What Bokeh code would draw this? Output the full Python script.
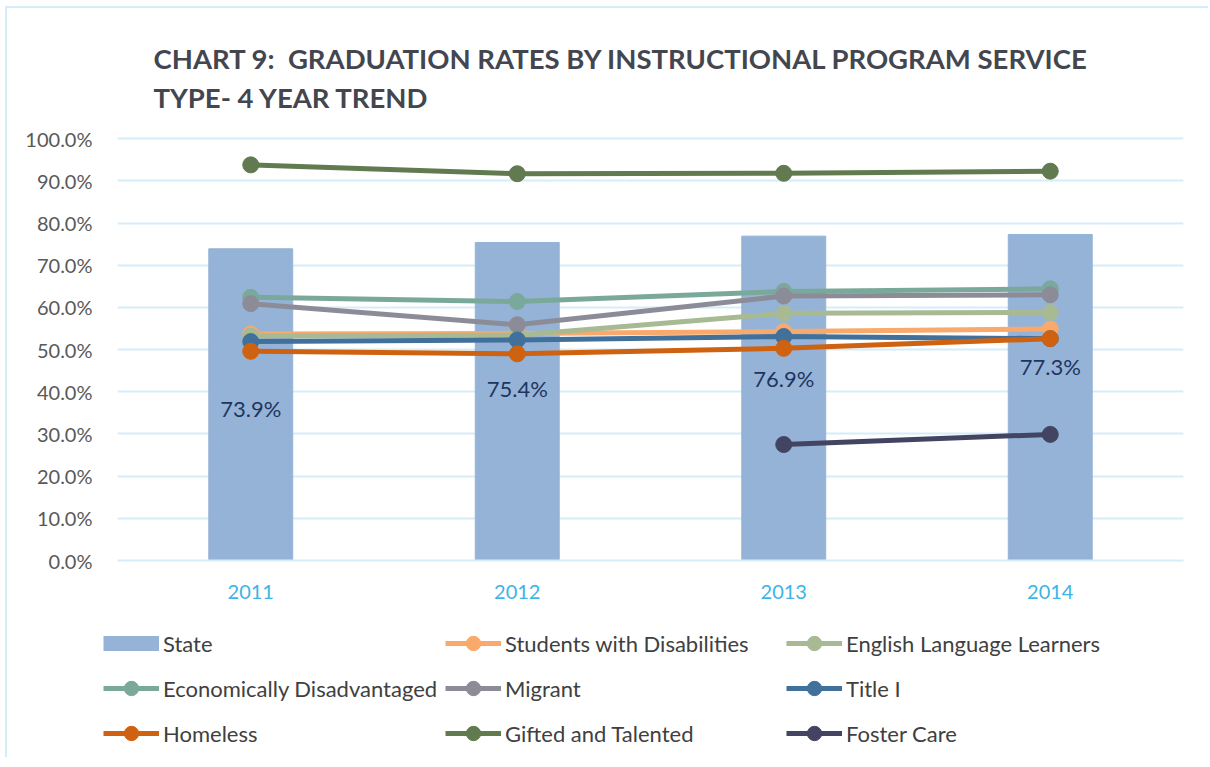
import numpy as np
from bokeh.plotting import figure
from bokeh.models import (Range1d, FactorRange, FixedTicker, PrintfTickFormatter,
                          Legend, LegendItem, Title)
from bokeh.core.properties import value
from bokeh.embed import file_html
from bokeh.resources import INLINE

years = ["2011", "2012", "2013", "2014"]
state = [73.9, 75.4, 76.9, 77.3]
state_labels = ["73.9%", "75.4%", "76.9%", "77.3%"]
label_pos = [36.0, 40.8, 43.1, 46.0]

swd = [53.7, 53.8, 54.3, 54.9]
ell = [53.2, 53.4, 58.6, 58.8]
econ = [62.4, 61.4, 63.8, 64.4]
migrant = [60.9, 55.9, 62.7, 63.0]
title1 = [51.9, 52.3, 53.1, 52.6]
homeless = [49.6, 49.0, 50.3, 52.6]
gifted = [93.8, 91.7, 91.8, 92.3]
foster = [np.nan, np.nan, 27.5, 29.9]

series = [
    ("Students with Disabilities", swd, "#f8a96b"),
    ("English Language Learners", ell, "#a8ba93"),
    ("Economically Disadvantaged", econ, "#7aa99b"),
    ("Migrant", migrant, "#8c8c98"),
    ("Title I", title1, "#41709b"),
    ("Homeless", homeless, "#cf6210"),
    ("Gifted and Talented", gifted, "#617a4f"),
    ("Foster Care", foster, "#424461"),
]
BAR_COLOR = "#95b3d7"
BORDER = "2px solid #d5edf8"

FONT = "Lato"
W = 1203
H_MAIN = 607
H_LEG = 144

# ---------------- main chart ----------------
p = figure(width=W, height=H_MAIN, x_range=FactorRange(*years), y_range=Range1d(0, 101),
           output_backend="svg", toolbar_location=None,
           min_border_left=110, min_border_right=W - 1176, min_border_top=126,
           min_border_bottom=H_MAIN - 552)
p.outline_line_color = None
p.background_fill_color = "white"
p.border_fill_color = "white"
p.styles = {"border-left": BORDER, "border-top": BORDER,
            "margin-left": "5px", "margin-top": "6px"}

p.vbar(x=years, top=state, width=0.315, fill_color=BAR_COLOR, line_color=BAR_COLOR)

for name, vals, col in series:
    p.line(x=years, y=vals, line_color=col, line_width=5)
    p.scatter(x=years, y=vals, size=16, fill_color=col, line_color=col)

p.text(x=years, y=label_pos, text=state_labels, text_font=value(FONT),
       text_font_size="22px", text_color="#1f3560", text_align="center",
       text_baseline="middle")

p.yaxis.ticker = FixedTicker(ticks=list(range(0, 101, 10)))
p.yaxis.formatter = PrintfTickFormatter(format="%.1f%%")
p.yaxis.axis_line_color = None
p.yaxis.major_tick_line_color = None
p.yaxis.minor_tick_line_color = None
p.yaxis.major_label_text_font = FONT
p.yaxis.major_label_text_font_size = "20px"
p.yaxis.major_label_text_color = "#595959"
p.yaxis.major_label_standoff = 19

p.xaxis.axis_line_color = "#d5edf8"
p.xaxis.axis_line_width = 2
p.xaxis.major_tick_line_color = None
p.xaxis.major_label_text_font = FONT
p.xaxis.major_label_text_font_size = "20px"
p.xaxis.major_label_text_color = "#3db4e5"
p.xaxis.major_label_standoff = 18

p.xgrid.grid_line_color = None
p.ygrid.grid_line_color = "#d5edf8"
p.ygrid.grid_line_width = 2

p.add_layout(Title(text="CHART 9:\u00a0 GRADUATION RATES BY INSTRUCTIONAL PROGRAM SERVICE\nTYPE- 4 YEAR TREND",
                   align="left", offset=36, standoff=41, text_line_height=1.18,
                   text_font=FONT, text_font_style="bold", text_font_size="27.5px",
                   text_color="#44464f"), "above")

# ---------------- legend strip ----------------
# the same series, drawn out of view, so that the legend has real glyphs
pl = figure(width=W, height=H_LEG, x_range=FactorRange(*years), y_range=Range1d(-3, -2),
            output_backend="svg", toolbar_location=None,
            x_axis_location=None, y_axis_location=None, min_border=0)
pl.outline_line_color = None
pl.xgrid.visible = False
pl.ygrid.visible = False
pl.border_fill_color = "white"
pl.background_fill_color = "white"
pl.styles = {"border-left": BORDER, "margin-left": "5px"}

sw = {"State": [pl.line(x=years, y=state, line_color=BAR_COLOR, line_width=15,
                        line_cap="butt")]}
for name, vals, col in series:
    l = pl.line(x=years, y=vals, line_color=col, line_width=5)
    s = pl.scatter(x=years, y=vals, size=16, fill_color=col, line_color=col)
    sw[name] = [l, s]

cols = [["State", "Economically Disadvantaged", "Homeless"],
        ["Students with Disabilities", "Migrant", "Gifted and Talented"],
        ["English Language Learners", "Title I", "Foster Care"]]
xs = [96, 438, 779]
for names, x0 in zip(cols, xs):
    leg = Legend(items=[LegendItem(label=n, renderers=sw[n]) for n in names],
                 location=(x0, 6), orientation="vertical",
                 padding=0, margin=0, spacing=9,
                 glyph_width=56, glyph_height=36, label_height=20,
                 label_standoff=4, border_line_color=None,
                 background_fill_alpha=0,
                 label_text_font=FONT, label_text_font_size="22px",
                 label_text_color="#404040")
    pl.add_layout(leg, "center")

open("out.html", "w").write(file_html([p, pl], INLINE))
